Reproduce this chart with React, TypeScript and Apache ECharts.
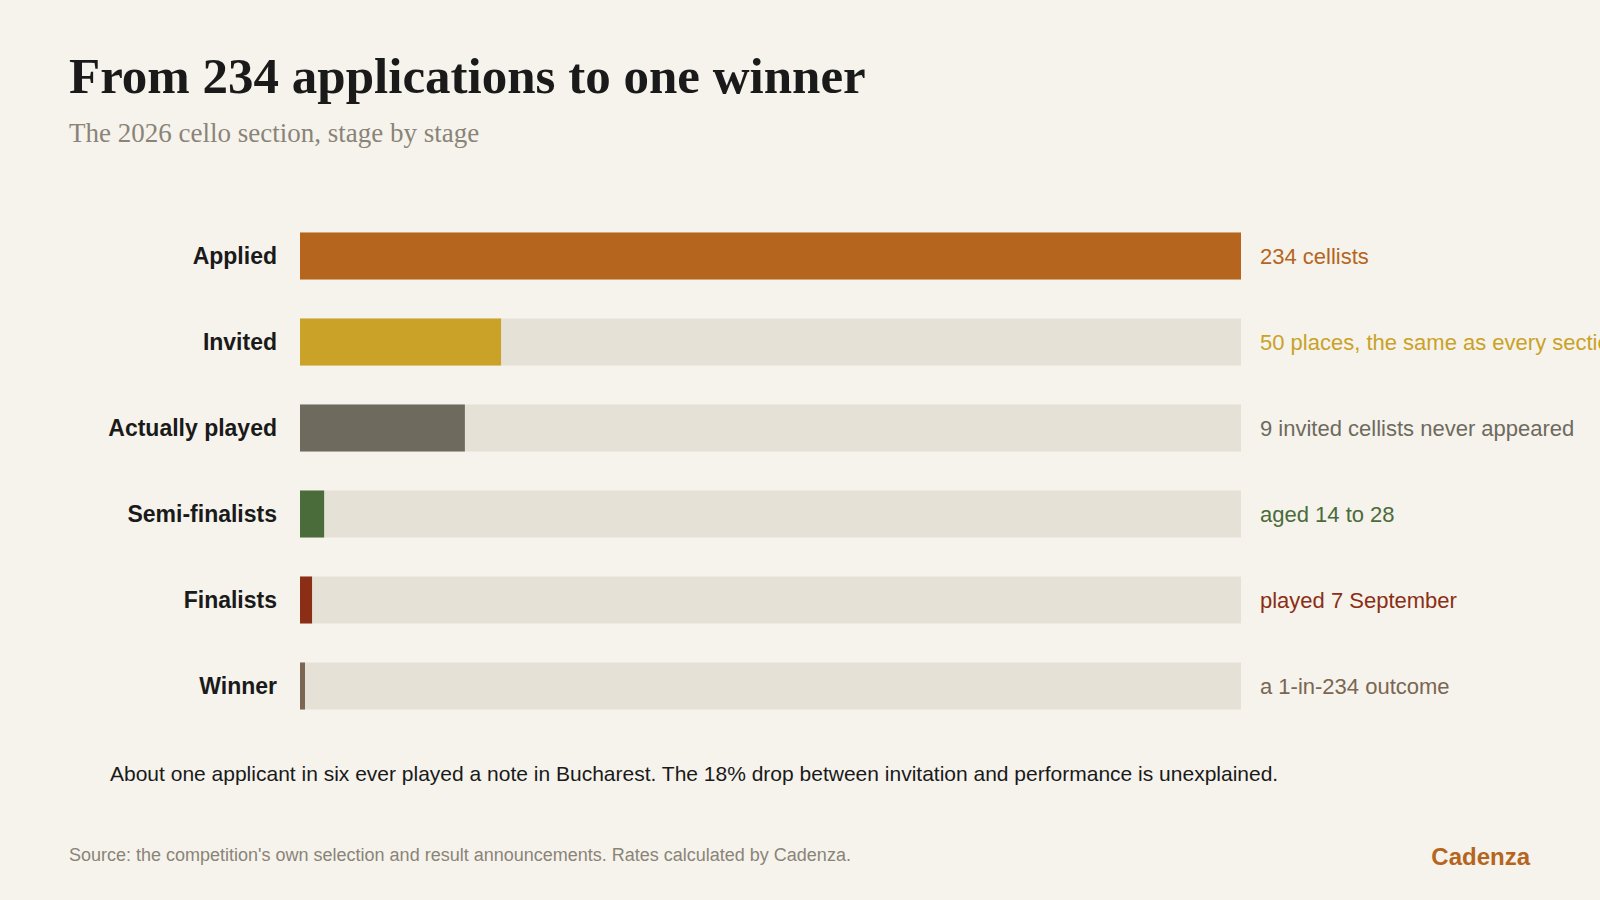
import { useEffect, useRef } from 'react';
import * as echarts from 'echarts';

const stages = ['Applied', 'Invited', 'Actually played', 'Semi-finalists', 'Finalists', 'Winner'];
const counts = [234, 50, 41, 6, 3, 1];
const notes = [
  '234 cellists',
  '50 places, the same as every section',
  '9 invited cellists never appeared',
  'aged 14 to 28',
  'played 7 September',
  'a 1-in-234 outcome',
];
const colors = ['#b5651d', '#c9a227', '#6e6a5e', '#4a6b3a', '#8b2e16', '#7a6652'];
const total = 234;

const SANS = "Arial, 'Liberation Sans', Helvetica, sans-serif";
const SERIF = "Georgia, 'Liberation Serif', 'DejaVu Serif', serif";

export default function App() {
  const chartRef = useRef<HTMLDivElement>(null);

  useEffect(() => {
    document.body.style.margin = '0';
    if (!chartRef.current) return;
    const chart = echarts.init(chartRef.current, null, { renderer: 'svg' });

    chart.setOption({
      animation: false,
      backgroundColor: '#f6f3ec',
      grid: { left: 300, right: 359, top: 213, bottom: 171 },
      xAxis: { type: 'value', min: 0, max: total, show: false },
      yAxis: {
        type: 'category',
        data: stages,
        inverse: true,
        axisLine: { show: false },
        axisTick: { show: false },
        axisLabel: {
          color: '#1a1a1a',
          fontFamily: SANS,
          fontWeight: 'bold',
          fontSize: 23,
          margin: 23,
        },
      },
      series: [
        {
          type: 'bar',
          data: stages.map((_, i) => ({
            value: total,
            label: { color: colors[i] },
          })),
          barWidth: 47,
          silent: true,
          itemStyle: { color: '#e5e1d6' },
          label: {
            show: true,
            position: 'right',
            distance: 19,
            fontFamily: SANS,
            fontSize: 22,
            formatter: (p: any) => notes[p.dataIndex],
          },
          z: 1,
        },
        {
          type: 'bar',
          data: counts.map((v, i) => ({ value: v, itemStyle: { color: colors[i] } })),
          barWidth: 47,
          barGap: '-100%',
          barMinHeight: 5,
          z: 2,
        },
      ],
      graphic: [
        {
          type: 'text',
          left: 69,
          top: 50,
          style: {
            text: 'From 234 applications to one winner',
            font: `bold 51px ${SERIF}`,
            fill: '#1a1a1a',
          },
        },
        {
          type: 'text',
          left: 69,
          top: 119,
          style: {
            text: 'The 2026 cello section, stage by stage',
            font: `27px ${SERIF}`,
            fill: '#8a8478',
          },
        },
        {
          type: 'text',
          left: 110,
          top: 763,
          style: {
            text: 'About one applicant in six ever played a note in Bucharest. The 18% drop between invitation and performance is unexplained.',
            font: `21px ${SANS}`,
            fill: '#1a1a1a',
          },
        },
        {
          type: 'text',
          left: 69,
          top: 846,
          style: {
            text: "Source: the competition's own selection and result announcements. Rates calculated by Cadenza.",
            font: `18px ${SANS}`,
            fill: '#8a8478',
          },
        },
        {
          type: 'text',
          right: 70,
          top: 844,
          style: {
            text: 'Cadenza',
            font: `bold 24px ${SANS}`,
            fill: '#b5651d',
          },
        },
      ],
    });

    const handleResize = () => chart.resize();
    window.addEventListener('resize', handleResize);
    return () => {
      window.removeEventListener('resize', handleResize);
      chart.dispose();
    };
  }, []);

  return <div ref={chartRef} style={{ width: '100vw', height: '100vh' }} />;
}
